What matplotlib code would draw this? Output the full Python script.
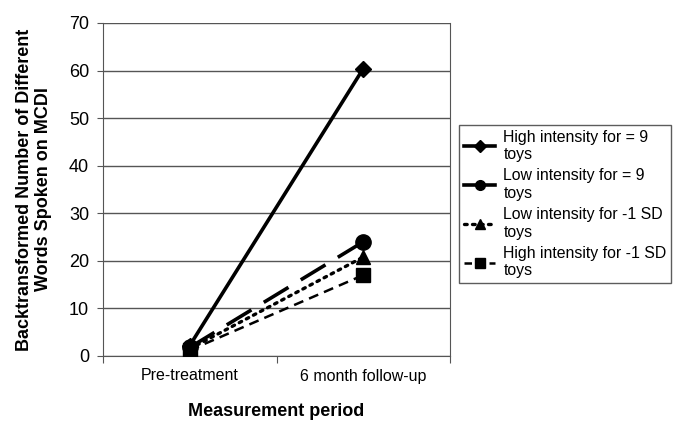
import numpy as np
import matplotlib
matplotlib.use("Agg")
import matplotlib.pyplot as plt
from matplotlib.lines import Line2D

plt.rcParams['font.family'] = ['Liberation Sans', 'DejaVu Sans']

periods = ["Pre-treatment", "6 month follow-up"]
series_names = [
    "High intensity for = 9\ntoys",
    "Low intensity for = 9\ntoys",
    "Low intensity for -1 SD\ntoys",
    "High intensity for -1 SD\ntoys",
]
high_9 = [2.2, 60.4]
low_9 = [1.8, 24.0]
low_minus1sd = [1.5, 20.8]
high_minus1sd = [1.2, 17.0]

x = np.arange(len(periods))

fig = plt.figure(figsize=(6.91, 4.33), dpi=100)
ax = fig.add_axes([103 / 691, 1 - 356 / 433, (450 - 103) / 691, (356 - 23) / 433])

# line styles in the plot
ax.plot(x, high_9, color='black', lw=2.6, ls='-', marker='D', ms=8, zorder=4)
ax.plot(x, low_9, color='black', lw=2.6, ls=(0, (8, 4)), marker='o', ms=11, zorder=3)
ax.plot(x, low_minus1sd, color='black', lw=2.4, ls=(0, (0.8, 1.6)), marker='^', ms=10,
        dash_capstyle='round', zorder=3)
ax.plot(x, high_minus1sd, color='black', lw=1.8, ls=(0, (4, 2.5)), marker='s', ms=10, zorder=3)

ax.set_xlim(-0.5, 1.5)
ax.set_ylim(0, 70)
ax.set_yticks(np.arange(0, 71, 10))
ax.set_xticks([-0.5, 0.5, 1.5])
ax.set_xticklabels([])
ax.set_xticks(x, minor=True)
ax.set_xticklabels(periods, minor=True)
ax.tick_params(axis='x', which='minor', length=0, pad=9, labelsize=11.5)
ax.tick_params(axis='x', which='major', length=5, direction='out', color='#555555')
ax.tick_params(axis='y', length=4, direction='out', color='#555555', labelsize=13, pad=6)

ax.grid(axis='y', color='#555555', lw=1.0)
ax.set_axisbelow(True)
for side in ['left', 'bottom', 'right']:
    ax.spines[side].set_color('#555555')
ax.spines['top'].set_visible(False)

ax.set_xlabel("Measurement period", fontsize=13, fontweight='bold', labelpad=14)
ax.set_ylabel("Backtransformed Number of Different\nWords Spoken on MCDI", fontsize=13,
              fontweight='bold', labelpad=12, linespacing=1.15)

# legend handles as shown in the key
handles = [
    Line2D([], [], color='black', lw=2.6, ls='-', marker='D', ms=6),
    Line2D([], [], color='black', lw=2.6, ls='-', marker='o', ms=7),
    Line2D([], [], color='black', lw=2.4, ls=(0, (0.8, 1.6)), marker='^', ms=7,
           dash_capstyle='round'),
    Line2D([], [], color='black', lw=1.8, ls=(0, (3, 2)), marker='s', ms=7),
]
leg = fig.legend(handles, series_names, loc='upper left',
                 bbox_to_anchor=(459 / 691, 1 - 125 / 433), borderaxespad=0,
                 fontsize=11.4, frameon=True, fancybox=False, edgecolor='#333333',
                 handlelength=2.0, handletextpad=0.5, labelspacing=0.4, borderpad=0.3)
leg.get_frame().set_linewidth(1.0)

fig.savefig("out.png", dpi=100)
